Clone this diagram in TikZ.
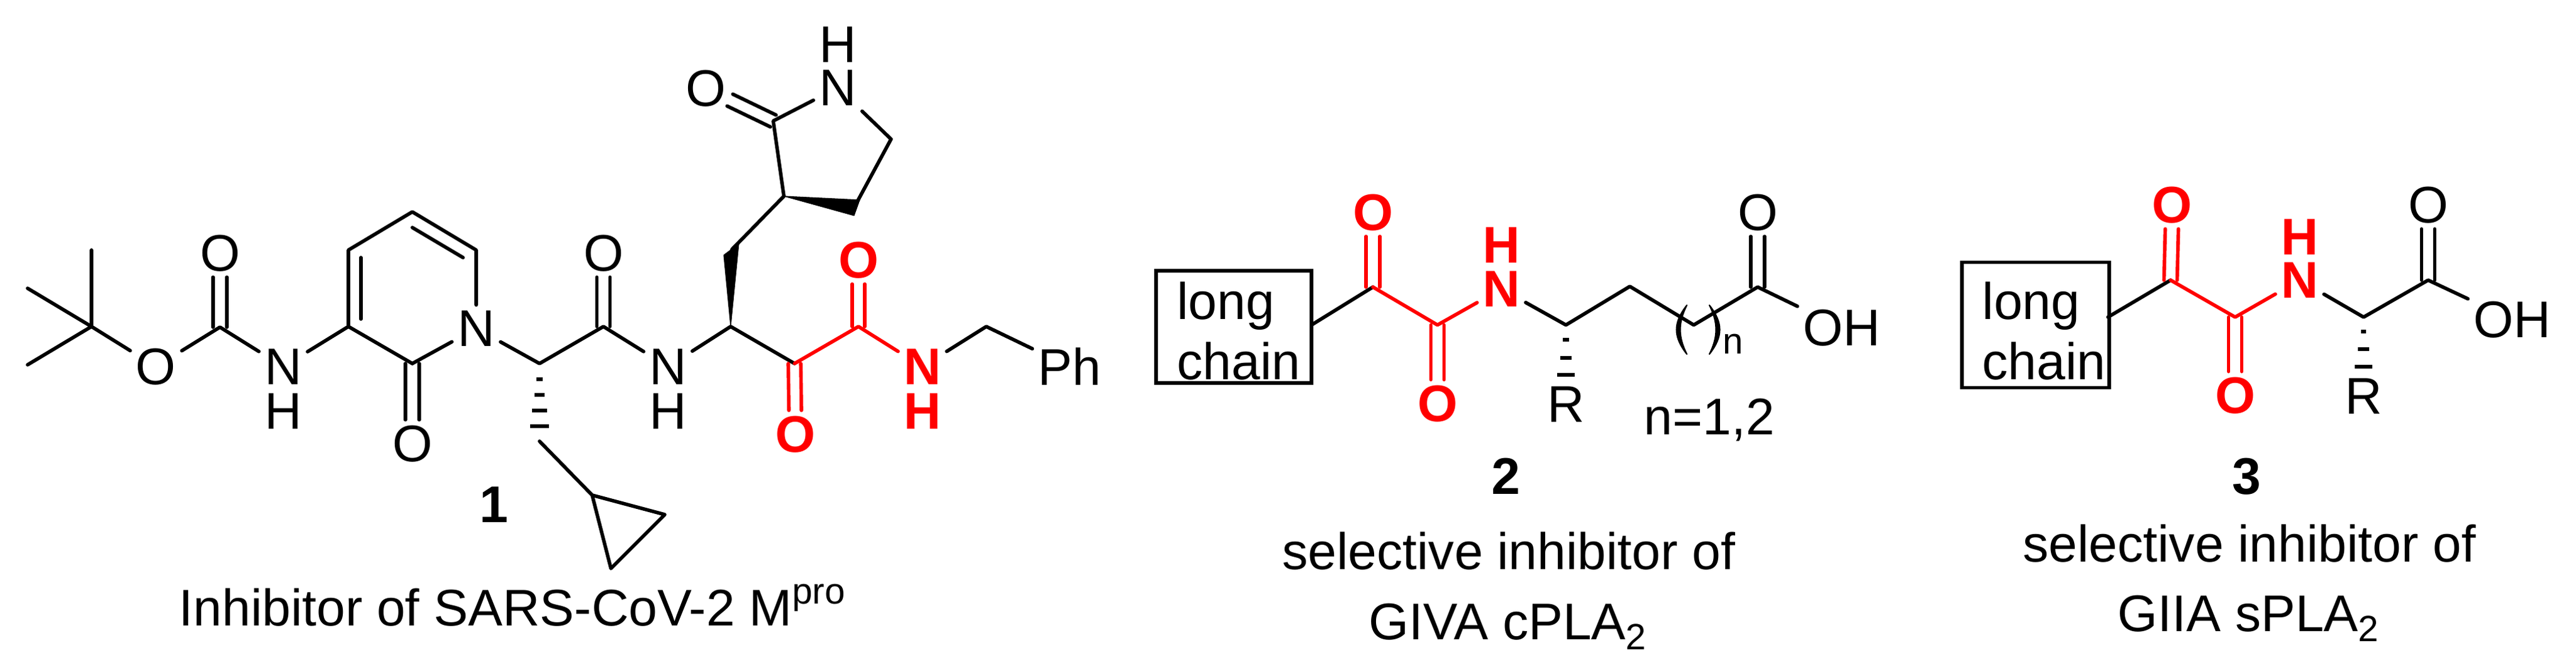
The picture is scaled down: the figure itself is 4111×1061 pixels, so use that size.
\documentclass[tikz,border=0pt]{standalone}
\usepackage{fontspec}
\setmainfont{Liberation Sans}
\usetikzlibrary{calc}
\definecolor{hl}{RGB}{255,0,0}
\newcommand{\bigfs}{\fontsize{23.4}{27}\selectfont}
\newcommand{\smallfs}{\fontsize{16.6}{18}\selectfont}
\tikzset{
  bond/.style={line width=1.6pt,line cap=round,line join=round,black},
  rbond/.style={bond,draw=hl},
  atom/.style={inner sep=2.4pt,font=\bigfs,text=black},
  hatom/.style={inner sep=0pt,font=\bigfs,text=black},
  ratom/.style={inner sep=2.4pt,font=\bigfs\bfseries,text=hl},
  rhatom/.style={inner sep=0pt,font=\bigfs\bfseries,text=hl},
  lbl/.style={inner sep=0pt,font=\bigfs,text=black},
  numlbl/.style={inner sep=0pt,font=\bigfs\bfseries,text=black},
  chainbox/.style={draw,line width=1.6pt,inner sep=0pt,fill=none},
  wedge/.style={fill=black,draw=black,line width=.3pt,line join=round},
  hash/.style={line width=1.6pt,black},
  paren/.style={fill=black,draw=black,line width=.6pt,line join=round},
}
\begin{document}
\begin{tikzpicture}[x=0.01cm,y=-0.01cm]
\useasboundingbox (0,0) rectangle (4111,1061);
%% ---------- compound 1 ----------
\coordinate (tb) at (146,521);
\coordinate (me1) at (146,399);
\coordinate (me2) at (44,460);
\coordinate (me3) at (44,582);
\coordinate (boc) at (351,522);
\coordinate (c3) at (556,521);
\coordinate (c4) at (556,399);
\coordinate (c5) at (658,338);
\coordinate (c6) at (760,399);
\coordinate (c2) at (658,580);
\coordinate (d1a) at (576,411);
\coordinate (d1b) at (576,509);
\coordinate (d2a) at (658,363);
\coordinate (d2b) at (739,411);
\coordinate (ca) at (861,580);
\coordinate (co) at (963,521);
\coordinate (ch2) at (861,704);
\coordinate (cp1) at (945,790);
\coordinate (cp2) at (1061,821);
\coordinate (cp3) at (975,907);
\coordinate (cb) at (1166,521);
\coordinate (cw1) at (1155,407);
\coordinate (cw2) at (1179,389);
\coordinate (cw) at (1168,398);
\coordinate (r3) at (1251,313);
\coordinate (r2) at (1234,193);
\coordinate (r5) at (1422,222);
\coordinate (r4) at (1369,320);
\coordinate (rw1) at (1372,319);
\coordinate (rw2) at (1363,344);
\coordinate (ke) at (1268,580);
\coordinate (am) at (1370,521);
\coordinate (bn) at (1574,521);

\node[atom] (oe) at (249,585) {O};
\node[atom] (ob) at (351,404) {O};
\node[atom] (n1) at (452,585) {N};
\node[hatom] (h1) at (452,656) {H};
\node[atom] (nr) at (760,524) {N};
\node[atom] (op) at (658,708) {O};
\node[atom] (oc) at (963,404) {O};
\node[atom] (n2) at (1066,585) {N};
\node[hatom] (h2) at (1066,656) {H};
\node[atom] (nl) at (1337,140) {N};
\node[hatom] (hlac) at (1337,71) {H};
\node[atom] (ol) at (1126,141) {O};
\node[ratom] (ok) at (1269,693) {O};
\node[ratom] (oa) at (1370,415) {O};
\node[ratom] (n3) at (1472,585) {N};
\node[rhatom] (h3) at (1472,656) {H};
\node[atom,anchor=west,xshift=-.085cm] (ph) at (1656,585) {Ph};
\node[numlbl,anchor=base] (l1) at (788,833) {1};
\node[lbl,anchor=base west] (cap1) at (285,998) {Inhibitor of SARS-CoV-2 M\raisebox{9.7pt}{\smallfs pro}};

\draw[bond] (me1) -- (tb) (me2) -- (tb) (me3) -- (tb);
\draw[bond] (tb) -- (oe);
\draw[bond] (oe) -- (boc) -- (n1);
\draw[bond] ([xshift=-.11cm]boc) -- ([xshift=-.11cm]ob.south);
\draw[bond] ([xshift=.11cm]boc) -- ([xshift=.11cm]ob.south);
\draw[bond] (n1) -- (c3);
\draw[bond] (c2) -- (c3) -- (c4) -- (c5) -- (c6) -- (nr);
\draw[bond] (d1a) -- (d1b);
\draw[bond] (d2a) -- (d2b);
\draw[bond] (c2) -- (nr);
\draw[bond] ([xshift=-.11cm]c2) -- ([xshift=-.11cm]op.north);
\draw[bond] ([xshift=.11cm]c2) -- ([xshift=.11cm]op.north);
\draw[bond] (nr) -- (ca) -- (co) -- (n2);
\draw[bond] ([xshift=-.105cm]co) -- ([xshift=-.105cm]oc.south);
\draw[bond] ([xshift=.105cm]co) -- ([xshift=.105cm]oc.south);
% hashed bond
\foreach \yy/\hw in {605/5,630/8,655/12,680/15}{
  \draw[hash] (861-\hw,\yy) -- (861+\hw,\yy);
}
\draw[bond] (ch2) -- (cp1) -- (cp2) -- (cp3) -- (cp1);
\draw[bond] (n2) -- (cb) -- (ke);
\fill[wedge] (cb) -- (cw1) -- (cw2) -- cycle;
\draw[bond] (cw) -- (r3);
\draw[bond] (r3) -- (r2) -- (nl) -- (r5) -- (r4);
\fill[wedge] (r3) -- (rw1) -- (rw2) -- cycle;
\coordinate (le) at ($(r2)!.64!(ol)$);
\draw[bond] ($(r2)!.105cm!90:(ol)$) -- ($(le)!.105cm!-90:(r2)$);
\draw[bond] ($(r2)!.105cm!-90:(ol)$) -- ($(le)!.105cm!90:(r2)$);
\draw[rbond] (ke) -- (am) -- (n3);
\draw[rbond] ([xshift=-.1cm]ke) -- ([xshift=-.1cm]ok.north);
\draw[rbond] ([xshift=.1cm]ke) -- ([xshift=.1cm]ok.north);
\draw[rbond] ([xshift=-.1cm]am) -- ([xshift=-.1cm]oa.south);
\draw[rbond] ([xshift=.1cm]am) -- ([xshift=.1cm]oa.south);
\draw[bond] (n3) -- (bn) -- (ph);
%% ---------- compound 2 ----------
\node[chainbox,minimum width=2.48cm,minimum height=1.79cm] (box2) at (1969,521.5) {};
\node[lbl,anchor=base west] (lg2) at (1878,510) {long};
\node[lbl,anchor=base west] (ch2t) at (1878,606) {chain};
\coordinate (b2e) at (2093,518.5);
\coordinate (k2) at (2191,458);
\coordinate (a2) at (2294,518.5);
\coordinate (s2) at (2499,518.5);
\coordinate (m2a) at (2601,457);
\coordinate (m2b) at (2703,518.5);
\coordinate (ac2) at (2805,458);
\node[ratom] (ok2) at (2191,339) {O};
\node[ratom] (oa2) at (2294,644) {O};
\node[ratom] (nn2) at (2396,461) {N};
\node[rhatom] (hh2) at (2396,391) {H};
\node[atom] (oo2) at (2805,339) {O};
\node[atom,anchor=west,xshift=-.085cm] (oh2) at (2877,523) {OH};
\node[atom] (rr2) at (2499,645) {R};
\node[lbl,anchor=base west] (nsub) at (2749,565) {\smallfs n};
\node[lbl,anchor=base west] (nval) at (2623,693) {n=1,2};
\node[numlbl,anchor=base] (l2) at (2403,788) {2};
\node[lbl,anchor=base] (sel2) at (2408,908) {selective inhibitor of};
\node[lbl,anchor=base] (tgt2) at (2406,1020) {GIVA cPLA\raisebox{-4.8pt}{\smallfs 2}};
\draw[bond] (b2e) -- (k2);
\draw[rbond] (k2) -- (a2) -- (nn2);
\draw[rbond] ([xshift=-.11cm]k2) -- ([xshift=-.11cm]ok2.south);
\draw[rbond] ([xshift=.11cm]k2) -- ([xshift=.11cm]ok2.south);
\draw[rbond] ([xshift=-.105cm]a2) -- ([xshift=-.105cm]oa2.north);
\draw[rbond] ([xshift=.105cm]a2) -- ([xshift=.105cm]oa2.north);
\draw[bond] (nn2) -- (s2) -- (m2a) -- (m2b) -- (ac2) -- (oh2);
\draw[bond] ([xshift=-.11cm]ac2) -- ([xshift=-.11cm]oo2.south);
\draw[bond] ([xshift=.11cm]ac2) -- ([xshift=.11cm]oo2.south);
\foreach \yy/\hw in {542/5,571/9,598/14}{
  \draw[hash] (2499-\hw,\yy) -- (2499+\hw,\yy);
}
\fill[paren] (2692,487) .. controls (2670,515) and (2670,537) .. (2692,565) .. controls (2678,537) and (2678,515) .. cycle;
\fill[paren] (2728,487) .. controls (2750,515) and (2750,537) .. (2728,565) .. controls (2742,537) and (2742,515) .. cycle;
%% ---------- compound 3 ----------
\node[chainbox,minimum width=2.35cm,minimum height=2cm] (box3) at (3248.5,518.5) {};
\node[lbl,anchor=base west] (lg3) at (3163,510) {long};
\node[lbl,anchor=base west] (ch3t) at (3163,606) {chain};
\coordinate (b3e) at (3364,506);
\coordinate (k3) at (3464,447);
\coordinate (a3) at (3567,506);
\coordinate (s3) at (3772,506);
\coordinate (ac3) at (3875,447);
\node[ratom] (ok3) at (3466,327) {O};
\node[ratom] (oa3) at (3567,631) {O};
\node[ratom] (nn3) at (3670,447) {N};
\node[rhatom] (hh3) at (3670,378) {H};
\node[atom] (oo3) at (3875,327) {O};
\node[atom,anchor=west,xshift=-.085cm] (oh3) at (3947,510) {OH};
\node[atom] (rr3) at (3772,632) {R};
\node[numlbl,anchor=base] (l3) at (3585,788) {3};
\node[lbl,anchor=base] (sel3) at (3590,896) {selective inhibitor of};
\node[lbl,anchor=base] (tgt3) at (3588,1007) {GIIA sPLA\raisebox{-4.8pt}{\smallfs 2}};
\draw[bond] (b3e) -- (k3);
\draw[rbond] (k3) -- (a3) -- (nn3);
\draw[rbond] ([xshift=-.105cm]k3) -- ([xshift=-.105cm]ok3.south);
\draw[rbond] ([xshift=.105cm]k3) -- ([xshift=.105cm]ok3.south);
\draw[rbond] ([xshift=-.105cm]a3) -- ([xshift=-.105cm]oa3.north);
\draw[rbond] ([xshift=.105cm]a3) -- ([xshift=.105cm]oa3.north);
\draw[bond] (nn3) -- (s3) -- (ac3) -- (oh3);
\draw[bond] ([xshift=-.105cm]ac3) -- ([xshift=-.105cm]oo3.south);
\draw[bond] ([xshift=.105cm]ac3) -- ([xshift=.105cm]oo3.south);
\foreach \yy/\hw in {529/4,557/9,585/14}{
  \draw[hash] (3772-\hw,\yy) -- (3772+\hw,\yy);
}
\end{tikzpicture}
\end{document}
